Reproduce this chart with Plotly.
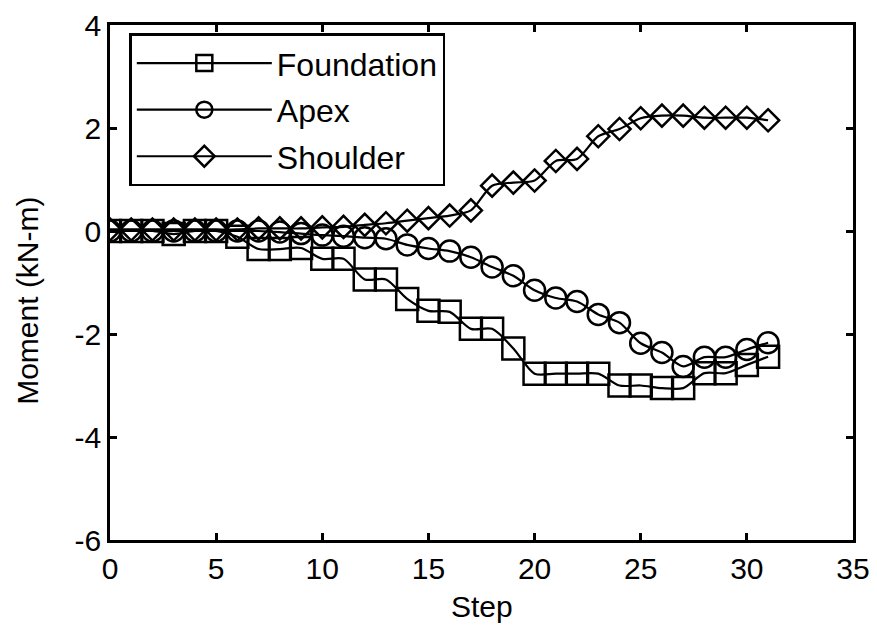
import plotly.graph_objects as go

# Load step index (x) and moment readings (kN-m) for each gauge location
steps = list(range(32))

foundation = [0, 0, 0, -0.06, 0, 0, -0.11, -0.35, -0.35, -0.33,
              -0.54, -0.54, -0.94, -0.94, -1.32, -1.55, -1.57, -1.9, -1.9, -2.28,
              -2.77, -2.77, -2.77, -2.77, -3.0, -3.0, -3.05, -3.05, -2.76, -2.76,
              -2.6, -2.44]
apex = [0, 0, 0, 0, 0, 0, 0, 0, -0.02, -0.05,
        -0.08, -0.1, -0.13, -0.15, -0.27, -0.34, -0.39, -0.51, -0.7, -0.87,
        -1.15, -1.3, -1.37, -1.62, -1.78, -2.18, -2.36, -2.63, -2.45, -2.45,
        -2.3, -2.17]
shoulder = [0.03, 0.03, 0.03, 0.03, 0.03, 0.03, 0.03, 0.05, 0.05, 0.05,
            0.07, 0.08, 0.12, 0.15, 0.2, 0.25, 0.3, 0.4, 0.88, 0.94,
            0.98, 1.36, 1.4, 1.84, 1.98, 2.19, 2.24, 2.24, 2.2, 2.2,
            2.2, 2.15]

series_names = ["Foundation", "Apex", "Shoulder"]
x_ticks = [0, 5, 10, 15, 20, 25, 30, 35]
y_ticks = [-6, -4, -2, 0, 2, 4]
y_tick_text = ["-6", "-4", "-2", "0", "2", "4"]   # plain hyphen, as in the original

FONT = "Liberation Sans, Arial, sans-serif"

fig = go.Figure()

styles = [
    dict(symbol="square-open", size=22),
    dict(symbol="circle-open", size=21),
    dict(symbol="diamond-open", size=17),
]

for name, values, style in zip(series_names, [foundation, apex, shoulder], styles):
    fig.add_trace(go.Scatter(
        x=steps, y=values,
        name=name,
        legendgroup=name,
        mode="lines+markers",
        line=dict(color="black", width=2.2, shape="spline", smoothing=0.8),
        marker=dict(symbol=style["symbol"], size=style["size"], color="black",
                    line=dict(color="black", width=2.5)),
    ))

# page body adds an 8px offset, so the figure is a bit smaller than the window;
# top margin leaves room for the "4" tick label
fig.update_layout(
    width=869, height=621,
    plot_bgcolor="white",
    paper_bgcolor="white",
    font=dict(family=FONT, size=30, color="black"),
    margin=dict(l=102, r=24, t=17, b=89),
    showlegend=True,
    legend=dict(
        x=0.026, y=0.984, xanchor="left", yanchor="top",
        bgcolor="white",
        bordercolor="black", borderwidth=2.5,
        font=dict(family=FONT, size=32, color="black"),
        tracegroupgap=2,
        itemwidth=135,
    ),
    annotations=[
        dict(text="Step", xref="paper", yref="paper", x=0.5, y=-0.130,
             xanchor="center", yanchor="middle", showarrow=False,
             font=dict(size=30)),
        dict(text="Moment (kN-m)", xref="paper", yref="paper", x=-0.112, y=0.464,
             xanchor="center", yanchor="middle", textangle=-90, showarrow=False,
             font=dict(size=30)),
    ],
)

fig.update_xaxes(
    range=[0, 35], tickvals=x_ticks,
    tickfont=dict(size=30),
    automargin=False, ticklabeloverflow="allow",
    showgrid=False, zeroline=False,
    showline=True, linecolor="black", linewidth=2.5, mirror="ticks",
    ticks="inside", ticklen=7, tickwidth=2.5, tickcolor="black",
)
fig.update_yaxes(
    range=[-6, 4], tickvals=y_ticks, ticktext=y_tick_text,
    tickfont=dict(size=30),
    automargin=False, ticklabeloverflow="allow",
    showgrid=False, zeroline=False,
    showline=True, linecolor="black", linewidth=2.5, mirror="ticks",
    ticks="inside", ticklen=7, tickwidth=2.5, tickcolor="black",
)

fig.write_html("out.html")
